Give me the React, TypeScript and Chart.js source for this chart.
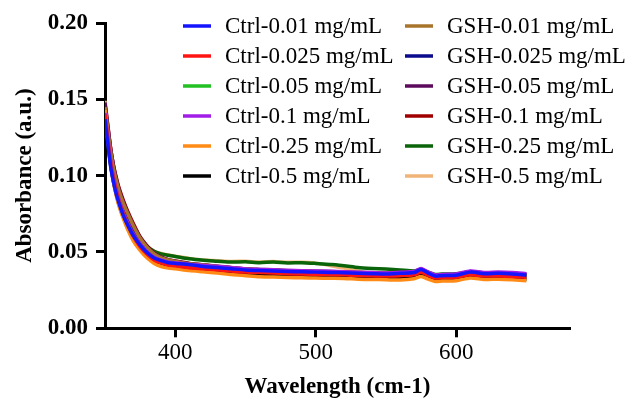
import React, { useEffect, useRef } from "react";
import { Chart, registerables } from "chart.js";
Chart.register(...registerables);

const FONT = "'Liberation Serif', 'Times New Roman', serif";

const wavelengths = [350, 352, 354, 356, 358, 360, 363, 366, 370, 375, 380, 385, 390, 395, 400, 410, 420, 430, 440, 450, 460, 470, 480, 490, 500, 510, 520, 530, 540, 550, 560, 570, 575, 580, 585, 590, 600, 610, 620, 630, 640, 650];

const xTickValues = [400, 500, 600];

const seriesLabels = [
  "Ctrl-0.01 mg/mL", "Ctrl-0.025 mg/mL", "Ctrl-0.05 mg/mL", "Ctrl-0.1 mg/mL", "Ctrl-0.25 mg/mL", "Ctrl-0.5 mg/mL",
  "GSH-0.01 mg/mL", "GSH-0.025 mg/mL", "GSH-0.05 mg/mL", "GSH-0.1 mg/mL", "GSH-0.25 mg/mL", "GSH-0.5 mg/mL",
];

const seriesColors = [
  "#1414ff", "#ff1414", "#22c022", "#a21ee8", "#ff8a14", "#000000",
  "#a8742c", "#0a0a8c", "#5c0a5c", "#a00000", "#0a640a", "#f0b478",
];

const ctrl001 = [0.137, 0.121, 0.106, 0.096, 0.088, 0.082, 0.074, 0.068, 0.061, 0.0545, 0.0495, 0.046, 0.0443, 0.043, 0.0425, 0.0418, 0.0405, 0.0398, 0.039, 0.0382, 0.0378, 0.0376, 0.0372, 0.037, 0.0368, 0.0366, 0.0364, 0.036, 0.0358, 0.0356, 0.036, 0.0365, 0.0385, 0.0362, 0.0342, 0.0345, 0.0348, 0.0368, 0.0358, 0.036, 0.0356, 0.0348];
const ctrl0025 = [0.140, 0.124, 0.109, 0.098, 0.090, 0.083, 0.075, 0.068, 0.0605, 0.0535, 0.0485, 0.0448, 0.0428, 0.0415, 0.041, 0.0397, 0.039, 0.0383, 0.0375, 0.0368, 0.0365, 0.0362, 0.0358, 0.0355, 0.0353, 0.0352, 0.035, 0.0346, 0.0344, 0.0342, 0.0345, 0.035, 0.0367, 0.0347, 0.033, 0.0332, 0.0335, 0.035, 0.0342, 0.0343, 0.034, 0.0334];
const ctrl005 = [0.139, 0.123, 0.108, 0.097, 0.089, 0.0825, 0.0745, 0.068, 0.0605, 0.054, 0.049, 0.0455, 0.0438, 0.0428, 0.0422, 0.0408, 0.0402, 0.0394, 0.0386, 0.0378, 0.0374, 0.0371, 0.0367, 0.0364, 0.0362, 0.036, 0.0358, 0.0354, 0.0352, 0.035, 0.0354, 0.0358, 0.0377, 0.0355, 0.0336, 0.0338, 0.0342, 0.036, 0.035, 0.0352, 0.0349, 0.0342];
const ctrl01 = [0.141, 0.125, 0.110, 0.099, 0.091, 0.084, 0.076, 0.0695, 0.062, 0.0553, 0.050, 0.0465, 0.0447, 0.0435, 0.043, 0.0418, 0.0412, 0.0405, 0.0397, 0.0389, 0.0385, 0.0383, 0.0379, 0.0377, 0.0375, 0.0373, 0.0371, 0.0367, 0.0365, 0.0363, 0.0367, 0.0372, 0.0392, 0.0369, 0.035, 0.0353, 0.0356, 0.0376, 0.0366, 0.0368, 0.0365, 0.0358];
const ctrl025 = [0.143, 0.125, 0.108, 0.096, 0.087, 0.080, 0.072, 0.065, 0.0575, 0.051, 0.046, 0.0425, 0.0405, 0.0395, 0.039, 0.0378, 0.037, 0.0362, 0.0352, 0.0345, 0.0338, 0.0336, 0.0333, 0.0331, 0.0329, 0.0328, 0.0327, 0.0322, 0.032, 0.0318, 0.0316, 0.0324, 0.034, 0.0322, 0.0307, 0.031, 0.0312, 0.033, 0.032, 0.0322, 0.0318, 0.0312];
const ctrl05 = [0.139, 0.122, 0.107, 0.096, 0.088, 0.081, 0.073, 0.0665, 0.059, 0.0525, 0.0475, 0.0438, 0.042, 0.041, 0.0403, 0.039, 0.0382, 0.0375, 0.0366, 0.0358, 0.0353, 0.035, 0.0346, 0.0343, 0.0341, 0.034, 0.0338, 0.0334, 0.0332, 0.033, 0.0333, 0.0338, 0.0355, 0.0335, 0.0318, 0.032, 0.0323, 0.034, 0.033, 0.0332, 0.0329, 0.0322];
const gsh001 = [0.145, 0.130, 0.116, 0.105, 0.097, 0.090, 0.082, 0.0755, 0.0675, 0.059, 0.053, 0.0488, 0.0462, 0.0448, 0.0438, 0.0423, 0.0414, 0.0405, 0.0396, 0.0388, 0.0384, 0.0381, 0.0377, 0.0374, 0.0372, 0.037, 0.0368, 0.0364, 0.0362, 0.036, 0.0363, 0.0368, 0.0387, 0.0364, 0.0345, 0.0347, 0.035, 0.037, 0.036, 0.0362, 0.0358, 0.035];
const gsh0025 = [0.142, 0.127, 0.112, 0.101, 0.093, 0.086, 0.078, 0.0715, 0.064, 0.0565, 0.051, 0.047, 0.0448, 0.0435, 0.0428, 0.0414, 0.0406, 0.0398, 0.039, 0.0382, 0.0378, 0.0375, 0.0371, 0.0368, 0.0366, 0.0364, 0.0362, 0.0358, 0.0356, 0.0354, 0.0357, 0.0362, 0.038, 0.0357, 0.0338, 0.034, 0.0342, 0.0362, 0.0352, 0.0354, 0.035, 0.0343];
const gsh005 = [0.148, 0.133, 0.118, 0.107, 0.098, 0.091, 0.083, 0.076, 0.068, 0.0595, 0.0535, 0.049, 0.0465, 0.045, 0.044, 0.0425, 0.0416, 0.0407, 0.0398, 0.039, 0.0386, 0.0383, 0.0379, 0.0376, 0.0374, 0.0372, 0.037, 0.0366, 0.0364, 0.0362, 0.0365, 0.037, 0.0389, 0.0366, 0.0347, 0.0349, 0.0352, 0.0372, 0.0362, 0.0364, 0.036, 0.0352];
const gsh01 = [0.147, 0.132, 0.118, 0.107, 0.099, 0.092, 0.084, 0.077, 0.069, 0.060, 0.054, 0.0492, 0.0466, 0.045, 0.0441, 0.0425, 0.0415, 0.0405, 0.0396, 0.0388, 0.0383, 0.038, 0.0376, 0.0373, 0.0371, 0.0369, 0.0367, 0.0363, 0.0361, 0.0359, 0.0362, 0.0367, 0.0385, 0.0363, 0.0344, 0.0346, 0.0349, 0.0368, 0.0358, 0.036, 0.0357, 0.0349];
const gsh025 = [0.145, 0.129, 0.115, 0.104, 0.096, 0.089, 0.081, 0.074, 0.066, 0.0585, 0.0535, 0.0505, 0.0488, 0.0478, 0.047, 0.0455, 0.0446, 0.044, 0.0434, 0.0436, 0.043, 0.0434, 0.0428, 0.043, 0.0425, 0.0418, 0.041, 0.0398, 0.0392, 0.0388, 0.0382, 0.0376, 0.0382, 0.0368, 0.0352, 0.0355, 0.0357, 0.037, 0.0362, 0.0364, 0.036, 0.0352];
const gsh05 = [0.149, 0.133, 0.118, 0.106, 0.097, 0.090, 0.082, 0.075, 0.067, 0.059, 0.0535, 0.0505, 0.049, 0.048, 0.0472, 0.0458, 0.0448, 0.0443, 0.0438, 0.0439, 0.0434, 0.0438, 0.0432, 0.0433, 0.0427, 0.0412, 0.0395, 0.0375, 0.0355, 0.0345, 0.0342, 0.0343, 0.0356, 0.0338, 0.032, 0.0322, 0.0325, 0.034, 0.0332, 0.0333, 0.033, 0.0323];

const seriesValues = [ctrl001, ctrl0025, ctrl005, ctrl01, ctrl025, ctrl05, gsh001, gsh0025, gsh005, gsh01, gsh025, gsh05];

export default function App() {
  const ref = useRef<HTMLCanvasElement>(null);
  useEffect(() => {
    document.body.style.margin = "0";
    const legendPlugin = {
      id: "twoColLegend",
      afterDraw(chart: any) {
        const ctx = chart.ctx;
        ctx.save();
        chart.data.datasets.forEach((ds: any, i: number) => {
          const col = Math.floor(i / 6);
          const row = i % 6;
          const lx = col === 0 ? 183 : 405;
          const y = 26 + row * 30;
          ctx.strokeStyle = ds.borderColor;
          ctx.lineWidth = 3.5;
          ctx.beginPath();
          ctx.moveTo(lx, y);
          ctx.lineTo(lx + 28, y);
          ctx.stroke();
          ctx.fillStyle = "#000";
          ctx.font = `23px ${FONT}`;
          ctx.textBaseline = "alphabetic";
          ctx.textAlign = "left";
          ctx.fillText(ds.label, lx + 42, y + 7);
        });
        ctx.restore();
      },
    };
    const chart = new Chart(ref.current!, {
      type: "line",
      data: {
        datasets: seriesValues.map((arr, i) => ({
          label: seriesLabels[i],
          data: wavelengths.map((w, j) => ({ x: w, y: arr[j] })),
          borderColor: seriesColors[i],
          backgroundColor: seriesColors[i],
          borderWidth: 3.5,
          pointRadius: 0,
          tension: 0.25,
          fill: false,
        })),
      },
      options: {
        responsive: false,
        animation: false,
        layout: { padding: { top: 23, right: 58, left: 0, bottom: 0 } },
        plugins: { legend: { display: false }, tooltip: { enabled: false } },
        scales: {
          x: {
            type: "linear",
            min: 350,
            max: 681,
            afterBuildTicks: (s: any) => {
              s.ticks = xTickValues.map((v) => ({ value: v }));
            },
            afterFit: (s: any) => {
              s.height = 72.7;
            },
            grid: { display: true, drawOnChartArea: false, drawTicks: true, tickLength: 9, tickWidth: 3, tickColor: "#000" },
            border: { display: true, color: "#000", width: 3 },
            ticks: { color: "#000", font: { family: FONT, size: 23 }, padding: 2, maxRotation: 0 },
            title: { display: true, text: "Wavelength (cm-1)", color: "#000", font: { family: FONT, size: 23, weight: "bold" }, padding: { top: 0, bottom: 0 } },
          },
          y: {
            min: 0,
            max: 0.2,
            afterFit: (s: any) => {
              s.width = 105;
            },
            grid: { display: true, drawOnChartArea: false, drawTicks: true, tickLength: 9, tickWidth: 3, tickColor: "#000" },
            border: { display: true, color: "#000", width: 3 },
            ticks: { stepSize: 0.05, color: "#000", font: { family: FONT, size: 23, weight: "bold" }, padding: 8, callback: (v: any) => Number(v).toFixed(2) },
            title: { display: true, text: "Absorbance (a.u.)", color: "#000", font: { family: FONT, size: 23, weight: "bold" }, padding: { top: 11, bottom: 0 } },
          },
        },
      },
      plugins: [legendPlugin],
    });
    return () => chart.destroy();
  }, []);
  return (
    <div style={{ width: 628, height: 401 }}>
      <canvas ref={ref} width={628} height={401} />
    </div>
  );
}
